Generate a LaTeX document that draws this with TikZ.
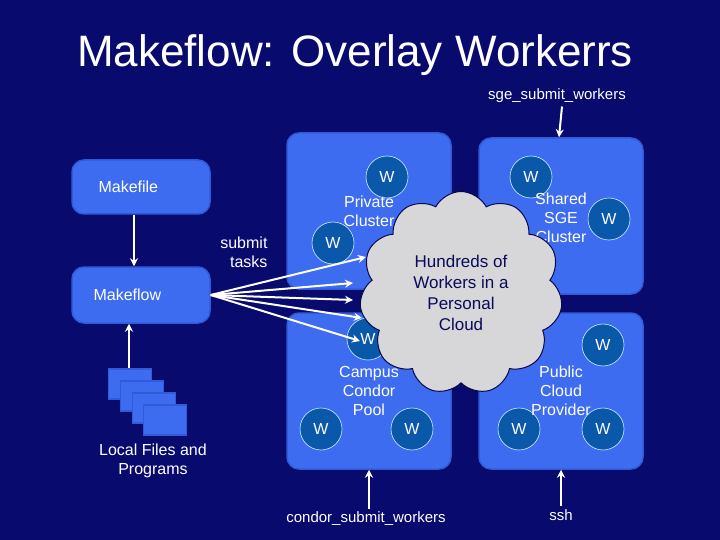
\documentclass[tikz,border=0pt]{standalone}
\usepackage{fontspec}
\setmainfont{Liberation Sans}
\usetikzlibrary{shapes.symbols,arrows.meta}
\definecolor{bg}{RGB}{8,10,110}
\definecolor{boxb}{RGB}{62,108,240}
\definecolor{boxe}{RGB}{50,90,215}
\definecolor{wfill}{RGB}{10,88,170}
\definecolor{cloudf}{RGB}{215,215,218}
\definecolor{navy}{RGB}{10,10,90}
\begin{document}
\begin{tikzpicture}[x=1pt,y=-1pt,
  lbl/.style={text=white,font=\fontsize{16}{19}\selectfont,align=center},
  rbox/.style={fill=boxb,draw=boxe,line width=1.5pt,rounded corners=12pt},
  wk/.style={circle,fill=wfill,draw=white!80!cyan,line width=0.6pt,minimum size=42pt,inner sep=0pt,text=white,font=\fontsize{16}{19}\selectfont},
  arr/.style={draw=white,line width=2pt,-{Stealth[length=8pt,width=8pt]}},
  fil/.style={fill=boxb,draw=boxe,line width=1.5pt}]
\useasboundingbox (0,0) rectangle (720,540);
\fill[bg] (0,0) rectangle (720,540);
\node[text=white,font=\fontsize{44}{50}\selectfont] (title) at (355,55) {Makeflow: Overlay Workerrs};
% left boxes
\node[rbox,minimum width=138pt,minimum height=54pt] (mf) at (141,187) {};
\node[lbl,anchor=west] (mft) at (95,187) {Makefile};
\node[rbox,minimum width=138pt,minimum height=56pt] (mk) at (141,295) {};
\node[lbl,anchor=west] (mkt) at (90,295) {Makeflow};
\draw[arr] (mf.south -| 134,0) -- (mk.north -| 134,0);
\node[fil,minimum width=43pt,minimum height=30pt,inner sep=0pt] (f1) at (130,384) {};
\node[fil,minimum width=43pt,minimum height=30pt,inner sep=0pt] (f2) at (142,396) {};
\node[fil,minimum width=43pt,minimum height=30pt,inner sep=0pt] (f3) at (154,408) {};
\node[fil,minimum width=43pt,minimum height=30pt,inner sep=0pt] (f4) at (165,420) {};
\draw[arr] (f1.north -| 129,0) -- (mk.south -| 129,0);
\node[lbl] (lf) at (153,461) {Local Files and\\Programs};
\node[lbl,align=right,anchor=east] (st) at (271,252) {submit\\tasks};
% four resource boxes
\node[rbox,minimum width=164pt,minimum height=156pt] (pc) at (369,211) {};
\node[rbox,minimum width=164pt,minimum height=156pt] (sg) at (561,216) {};
\node[rbox,minimum width=164pt,minimum height=156pt] (cc) at (369,391) {};
\node[rbox,minimum width=164pt,minimum height=156pt] (pu) at (561,391) {};
% workers
\node[wk] (w1) at (387,177) {W};
\node[wk] (w2) at (333,243) {W};
\node[wk] (w3) at (531,177) {W};
\node[wk] (w4) at (609,219) {W};
\node[wk] (w5) at (368,339) {W};
\node[wk] (w6) at (321,429) {W};
\node[wk] (w7) at (412,429) {W};
\node[wk] (w8) at (520,342) {W};
\node[wk] (w9) at (603,345) {W};
\node[wk] (w10) at (519,429) {W};
\node[wk] (w11) at (603,429) {W};
\node[lbl] (pct) at (369,211) {Private\\Cluster};
\node[lbl] (sgt) at (561,218) {Shared\\SGE\\Cluster};
\node[lbl] (cct) at (369,391) {Campus\\Condor\\Pool};
\node[lbl] (put) at (561,391) {Public\\Cloud\\Provider};
% arrows to cloud
\coordinate (a1) at (366,257);
\coordinate (a2) at (353,283);
\coordinate (a3) at (353,300);
\coordinate (a4) at (362,318);
\coordinate (a5) at (360,341);
\foreach \c in {a1,a2,a3,a4,a5} \draw[arr] (mk.east) -- (\c);
% cloud
\node[cloud,cloud puffs=11,cloud puff arc=125,aspect=1,fill=cloudf,draw=navy!80!black,line width=1pt,minimum width=203pt,minimum height=203pt,text=navy,font=\fontsize{17}{21}\selectfont,align=center,inner sep=0pt] (cl) at (461,293) {Hundreds of\\Workers in a\\Personal\\Cloud};
% submit commands
\node[text=white,font=\fontsize{15}{18}\selectfont] (sge) at (557,96) {sge\_submit\_workers};
\draw[arr] (sge.south -| 562,0) -- (sg.north -| 559,0);
\node[text=white,font=\fontsize{15}{18}\selectfont] (cond) at (366,519) {condor\_submit\_workers};
\draw[arr] (cond.north -| 369,0) -- (cc.south -| 369,0);
\node[text=white,font=\fontsize{15}{18}\selectfont] (ssh) at (561,515) {ssh};
\draw[arr] (ssh.north) -- (pu.south -| ssh.north);
\end{tikzpicture}
\end{document}
